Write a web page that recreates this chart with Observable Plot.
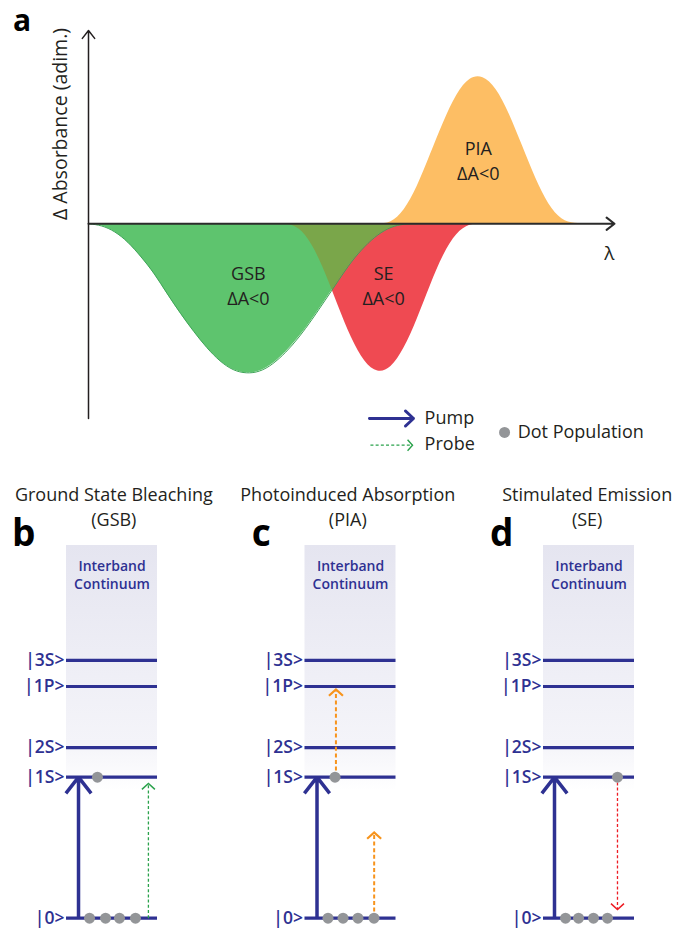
<!DOCTYPE html>
<html>
<head>
<meta charset="utf-8">
<script src="https://cdn.jsdelivr.net/npm/d3@7"></script>
<script src="https://cdn.jsdelivr.net/npm/@observablehq/plot@0.6"></script>
<style>
  html, body { margin: 0; padding: 0; background: #fff; }
  #fig { width: 676px; height: 928px; overflow: hidden; }
  #fig svg { display: block; }
</style>
</head>
<body>
<div id="fig"></div>
<script>
// ---------------- Panel a: transient absorption spectrum ----------------
const lambda = [0, 2.5, 5, 7.5, 10, 12.5, 15, 17.5, 20, 22.5, 25, 27.5, 30, 32.5, 35, 37.5, 40, 42.5, 45, 47.5,
                50, 52.5, 55, 57.5, 60, 62.5, 65, 67.5, 70, 72.5, 75, 77.5, 80, 82.5, 85, 87.5, 90, 92.5, 95, 97.5, 100];
const gsb = [0, -0.01, -0.05, -0.12, -0.22, -0.33, -0.47, -0.60, -0.72, -0.83, -0.92, -0.98, -1.00, -0.99, -0.94, -0.86, -0.76, -0.64, -0.51, -0.38,
             -0.25, -0.15, -0.07, -0.02, 0, 0, 0, 0, 0, 0, 0, 0, 0, 0, 0, 0, 0, 0, 0, 0, 0];
const se  = [0, 0, 0, 0, 0, 0, 0, 0, 0, 0, 0, 0, 0, 0, 0, 0, -0.02, -0.13, -0.32, -0.55,
             -0.77, -0.93, -1.00, -0.97, -0.84, -0.64, -0.41, -0.20, -0.06, 0, 0, 0, 0, 0, 0, 0, 0, 0, 0, 0, 0];
const pia = [0, 0, 0, 0, 0, 0, 0, 0, 0, 0, 0, 0, 0, 0, 0, 0, 0, 0, 0, 0,
             0, 0, 0, 0, 0.08, 0.24, 0.46, 0.68, 0.87, 0.98, 0.99, 0.91, 0.74, 0.52, 0.30, 0.12, 0.02, 0, 0, 0, 0];
const lambdaAxis = [0, 100];
const absorbanceAxis = [-1.30, 1.29];
const bandNames = ["GSB\nΔA<0", "SE\nΔA<0", "PIA\nΔA<0"];
const bandLambda = [30.4, 56.1, 74.1];
const bandValue = [-0.405, -0.405, 0.43];
const legendLabels = ["Pump", "Probe", "Dot Population"];

// ---------------- Panels b–d: energy level schemes ----------------
const panels = ["b", "c", "d"];
const panelTitles = ["Ground State Bleaching\n(GSB)", "Photoinduced Absorption\n(PIA)", "Stimulated Emission\n(SE)"];
const levelNames = ["|0>", "|1S>", "|2S>", "|1P>", "|3S>"];
const levelEnergies = [0, 1.0, 1.21, 1.643, 1.828];
const continuumRange = [0.9, 2.643];
const pumpX = [0.132, 0.132, 0.121];
const excitedDotX = [0.34, 0.33, 0.813];
const groundDotsX = [[0.253, 0.429, 0.582, 0.758], [0.253, 0.418, 0.582, 0.758], [0.242, 0.385, 0.549, 0.703]];
const probePanel = ["b", "c", "c", "d"];
const probeKind = ["GSB", "PIA", "PIA", "SE"];
const probeX = [0.90, 0.34, 0.76, 0.813];
const probeFrom = [0, 1, 0, 1];
const probeTo = [0.955, 1.622, 0.608, 0.062];

// ---------------- styles ----------------
const FONT = "'Open Sans', 'DejaVu Sans', sans-serif";
const NAVY = "#2e3192";
const INK = "#231f20";
const GRAY = "#939598";
const probeStyle = {
  GSB: {stroke: "#2ba24c", width: 1.3, dash: "3,2.2", r: 6.5},
  PIA: {stroke: "#f7941d", width: 2, dash: "4,2.6", r: 7},
  SE:  {stroke: "#ed1c24", width: 1.3, dash: "3,2.2", r: 6.5}
};
const chevron = {
  draw(ctx, size) {
    const r = Math.sqrt(size / Math.PI);
    ctx.moveTo(-r, r * 0.9);
    ctx.lineTo(0, 0);
    ctx.lineTo(r, r * 0.9);
  }
};

// ---------------- tables ----------------
const rows = lambda.map((l, i) => ({lambda: l, gsb: gsb[i], se: se[i], pia: pia[i]}));
const bands = bandNames.map((t, i) => ({text: t, lambda: bandLambda[i], value: bandValue[i]}));
const levels = levelNames.map((n, i) => ({name: n, E: levelEnergies[i]}));
const pumps = panels.map((p, i) => ({panel: p, x: pumpX[i]}));
const population = panels.flatMap((p, i) => [
  {panel: p, x: excitedDotX[i], E: levelEnergies[1]},
  ...groundDotsX[i].map(x => ({panel: p, x, E: levelEnergies[0]}))
]);
const probes = probePanel.map((p, i) => ({panel: p, kind: probeKind[i], x: probeX[i], from: probeFrom[i], to: probeTo[i]}));
const titles = panels.map((p, i) => ({panel: p, text: panelTitles[i]}));
const titleX = {b: 0.52, c: 0.47, d: 0.48};
const letterX = {b: -0.47, c: -0.48, d: -0.46};

const curve = "basis";

// ---------------- Plot a ----------------
const svgA = Plot.plot({
  width: 676, height: 470,
  marginLeft: 88, marginRight: 62, marginTop: 30, marginBottom: 52,
  x: {domain: lambdaAxis, axis: null},
  y: {domain: absorbanceAxis, axis: null},
  style: {fontFamily: FONT, background: "white", overflow: "visible", color: INK},
  marks: [
    Plot.areaY(rows, {x: "lambda", y: "pia", fill: "#fdbe64", curve}),
    Plot.areaY(rows, {x: "lambda", y: "se", fill: "#ef4a52", curve}),
    Plot.areaY(rows, {x: "lambda", y: "gsb", fill: "#5ec46e", curve}),
    Plot.areaY(rows, {x: "lambda", y: "gsb", fill: "#7aa64a", curve}),
    Plot.lineY(rows.filter(d => d.lambda <= 62.5), {x: "lambda", y: "gsb", stroke: "#3ea457", strokeWidth: 1, curve}),
    // axes with arrow heads
    Plot.arrow([0], {x1: lambdaAxis[0], x2: lambdaAxis[1], y1: 0, y2: 0, stroke: "#2b2b2b", strokeWidth: 2, headLength: 7.5, headAngle: 76}),
    Plot.arrow([0], {x1: 0, x2: 0, y1: absorbanceAxis[0], y2: absorbanceAxis[1], stroke: INK, strokeWidth: 1.5, headLength: 10, headAngle: 76}),
    // texts
    Plot.text(bands, {x: "lambda", y: "value", text: "text", fontSize: 18, lineHeight: 1.38, fill: INK}),
    Plot.text(["λ"], {x: 99, y: -0.2, text: d => d, fontSize: 19, fill: INK}),
    Plot.text(["Δ Absorbance (adim.)"], {x: -5.3, y: 0.666, text: d => d, rotate: -90, fontSize: 19.5, fill: INK}),
    Plot.text(["a"], {frameAnchor: "top-left", dx: -75.5, text: d => d, lineAnchor: "bottom", textAnchor: "start", fontSize: 30, fontWeight: "bold", fill: "#000"}),
    // legend
    Plot.arrow([0], {x1: 53.4, x2: 61.8, y1: -1.30, y2: -1.30, stroke: NAVY, strokeWidth: 2.8, headLength: 6, headAngle: 86}),
    Plot.link([0], {x1: 53.6, x2: 61.6, y1: -1.478, y2: -1.478, stroke: probeStyle.GSB.stroke, strokeWidth: 1.2, strokeDasharray: "3,2.2"}),
    Plot.dot([0], {x: 61.6, y: -1.478, symbol: chevron, r: 5.5, rotate: 90, fill: "none", stroke: probeStyle.GSB.stroke, strokeWidth: 1.4}),
    Plot.dot([0], {x: 79.1, y: -1.393, r: 5.5, fill: GRAY}),
    Plot.text(legendLabels, {x: [63.9, 63.9, 81.6], y: [-1.30, -1.475, -1.393], text: d => d, textAnchor: "start", fontSize: 18, fill: INK})
  ]
});

// clip the overlap (olive) region to the SE band
{
  const areaPaths = svgA.querySelectorAll('g[aria-label="area"] path');
  const defsA = d3.select(svgA).insert("defs", ":first-child");
  defsA.append("clipPath").attr("id", "se-clip").append("path").attr("d", areaPaths[1].getAttribute("d"));
  areaPaths[3].setAttribute("clip-path", "url(#se-clip)");
}

// ---------------- Plot b–d ----------------
const probeMarks = Object.entries(probeStyle).flatMap(([kind, s]) => {
  const data = probes.filter(d => d.kind === kind);
  return [
    Plot.link(data, {fx: "panel", x1: "x", x2: "x", y1: "from", y2: "to", stroke: s.stroke, strokeWidth: s.width, strokeDasharray: s.dash}),
    Plot.dot(data, {fx: "panel", x: "x", y: "to", symbol: chevron, r: s.r, rotate: d => d.to > d.from ? 0 : 180, fill: "none", stroke: s.stroke, strokeWidth: s.width + 0.2})
  ];
});

const svgB = Plot.plot({
  width: 676, height: 458,
  marginLeft: 66, marginRight: 42, marginTop: 75, marginBottom: 10.3,
  fx: {domain: panels, paddingInner: 0.6184, paddingOuter: 0, round: false, axis: null, label: null},
  x: {domain: [0, 1], axis: null},
  y: {domain: [0, continuumRange[1]], axis: null},
  style: {fontFamily: FONT, background: "white", overflow: "visible", color: INK},
  marks: [
    Plot.rect([0], {x1: 0, x2: 1, y1: continuumRange[0], y2: continuumRange[1], fill: "url(#continuum)"}),
    Plot.text(["Interband\nContinuum"], {x: 0.5, frameAnchor: "top", lineAnchor: "middle", dy: 29, text: d => d, fontSize: 14, fontWeight: 600, lineHeight: 1.29, fill: NAVY}),
    Plot.ruleY(levels, {y: "E", x1: 0, x2: 1, stroke: NAVY, strokeWidth: 3.2}),
    Plot.text(levels, {x: 0, y: "E", text: "name", textAnchor: "end", dx: -2, fontSize: 17.5, fontWeight: 600, fill: NAVY}),
    Plot.arrow(pumps, {fx: "panel", x1: "x", x2: "x", y1: levelEnergies[0], y2: levelEnergies[1], stroke: NAVY, strokeWidth: 3.5, headLength: 8.8, headAngle: 76, strokeLinecap: "butt"}),
    ...probeMarks,
    Plot.dot(population, {fx: "panel", x: "x", y: "E", r: 5.5, fill: GRAY}),
    Plot.text(titles, {fx: "panel", x: d => titleX[d.panel], frameAnchor: "top", lineAnchor: "middle", dy: -40.5, text: "text", fontSize: 18, lineHeight: 1.39, fill: INK}),
    Plot.text(panels, {fx: d => d, x: d => letterX[d], frameAnchor: "top", lineAnchor: "bottom", text: d => d, fontSize: 37, fontWeight: "bold", fill: "#000"})
  ]
});

{
  const defs = d3.select(svgB).insert("defs", ":first-child");
  const grad = defs.append("linearGradient").attr("id", "continuum")
    .attr("x1", 0).attr("y1", 0).attr("x2", 0).attr("y2", 1);
  grad.append("stop").attr("offset", "0%").attr("stop-color", "#e5e5f0");
  grad.append("stop").attr("offset", "80%").attr("stop-color", "#f4f4f9");
  grad.append("stop").attr("offset", "100%").attr("stop-color", "#ffffff");
}

document.getElementById("fig").append(svgA, svgB);
</script>
</body>
</html>
